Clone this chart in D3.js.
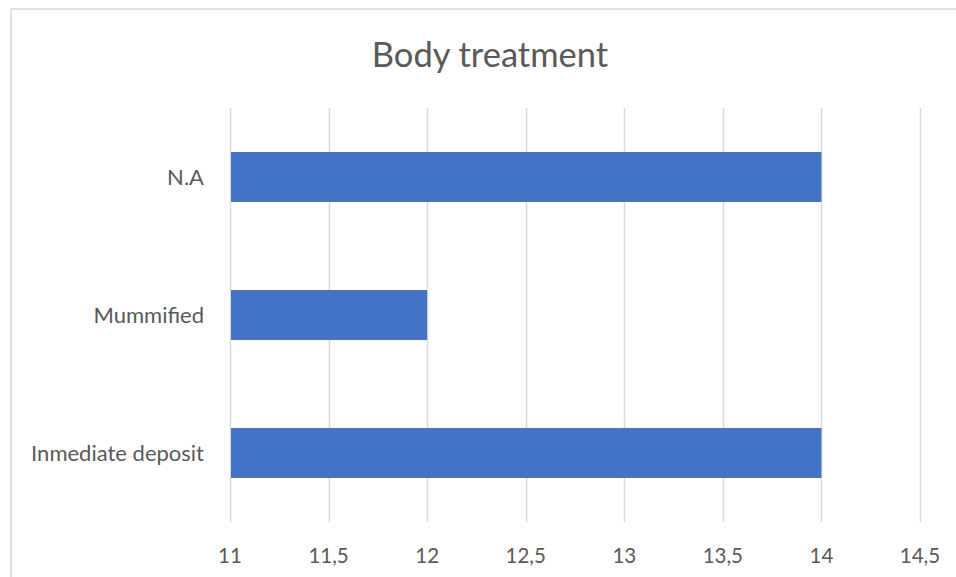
<!DOCTYPE html>
<html>
<head>
<meta charset="utf-8">
<script src="https://cdn.jsdelivr.net/npm/d3@7"></script>
<style>
  body { margin: 0; background: #fff; }
  text { font-family: Lato, "Open Sans", sans-serif; fill: #595959; }
</style>
</head>
<body>
<svg width="956" height="577"></svg>
<script>
'use strict';

// data
var categories = ["N.A", "Mummified", "Inmediate deposit"];
var values = [14, 12, 14];
var tickValues = [11, 11.5, 12, 12.5, 13, 13.5, 14, 14.5];
var title = "Body treatment";

var svg = d3.select('svg');

// outer chart border
svg.append('rect')
  .attr('x', 11)
  .attr('y', 9)
  .attr('width', 960)
  .attr('height', 590)
  .attr('fill', 'none')
  .attr('stroke', '#d9d9d9')
  .attr('stroke-width', 1.5);

var x = d3.scaleLinear()
  .domain([11, 14.5])
  .range([230, 920]);

var y = d3.scaleBand()
  .domain(categories)
  .range([108, 522])
  .paddingInner(0.638)
  .paddingOuter(0.319);

// gridlines
svg.append('g')
  .selectAll('line')
  .data(tickValues)
  .enter()
  .append('line')
  .attr('x1', function (d) { return Math.round(x(d)) + 0.5; })
  .attr('x2', function (d) { return Math.round(x(d)) + 0.5; })
  .attr('y1', 108)
  .attr('y2', 522)
  .attr('stroke', '#d9d9d9')
  .attr('stroke-width', 1.5);

// bars
svg.append('g')
  .selectAll('rect')
  .data(categories)
  .enter()
  .append('rect')
  .attr('x', x(11) + 1)
  .attr('y', function (d) { return y(d); })
  .attr('width', function (d, i) { return x(values[i]) - x(11) - 1; })
  .attr('height', y.bandwidth())
  .attr('fill', '#4472C4');

// x tick labels
svg.append('g')
  .selectAll('text')
  .data(tickValues)
  .enter()
  .append('text')
  .attr('x', function (d) { return x(d); })
  .attr('y', 563)
  .attr('text-anchor', 'middle')
  .style('font-size', '20.5px')
  .text(function (d) { return String(d).replace('.', ','); });

// category labels
svg.append('g')
  .selectAll('text')
  .data(categories)
  .enter()
  .append('text')
  .attr('x', 204)
  .attr('y', function (d) { return y(d) + y.bandwidth() / 2 + 8; })
  .attr('text-anchor', 'end')
  .style('font-size', '22px')
  .text(function (d) { return d; });

// title
svg.append('text')
  .attr('x', 490)
  .attr('y', 67)
  .attr('text-anchor', 'middle')
  .style('font-size', '34.5px')
  .text(title);
</script>
</body>
</html>
